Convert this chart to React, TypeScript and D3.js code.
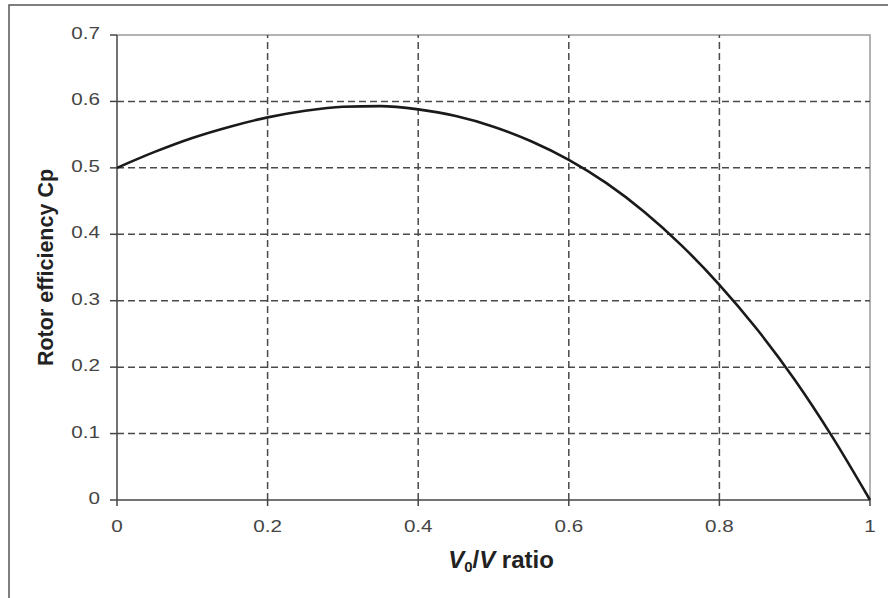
import React from 'react'
import * as d3 from 'd3'

// V0/V ratio samples and rotor efficiency
const ratios = [0, 0.05, 0.1, 0.15, 0.2, 0.25, 0.3, 0.35, 0.4, 0.45, 0.5, 0.55, 0.6, 0.65, 0.7, 0.75, 0.8, 0.85, 0.9, 0.95, 1]
const cpValues = [0.5, 0.524, 0.545, 0.562, 0.576, 0.586, 0.592, 0.593, 0.588, 0.578, 0.562, 0.54, 0.512, 0.477, 0.434, 0.383, 0.324, 0.257, 0.181, 0.095, 0]

const xTicks = [0, 0.2, 0.4, 0.6, 0.8, 1]
const yTicks = [0, 0.1, 0.2, 0.3, 0.4, 0.5, 0.6, 0.7]

const W = 888
const H = 598
const margin = { left: 117, top: 35, right: 18, bottom: 98 }

const FONT = '"Liberation Sans", Arial, sans-serif'

const App = () => {
  const x = d3
    .scaleLinear()
    .domain([0, 1])
    .range([margin.left, W - margin.right])
  const y = d3
    .scaleLinear()
    .domain([0, 0.7])
    .range([H - margin.bottom, margin.top])

  const points = ratios.map((r, i) => [r, cpValues[i]])
  const line = d3
    .line()
    .x(d => x(d[0]))
    .y(d => y(d[1]))
    .curve(d3.curveMonotoneX)

  const [x0, x1] = x.range()
  const [y0, y1] = y.range()

  return (
    <svg
      width={W}
      height={H}
      style={{ position: 'absolute', left: 0, top: 0, display: 'block', background: '#fff' }}
    >
      {/* outer frame, runs off the right and bottom edges */}
      <rect x={9} y={5} width={W + 20} height={H + 20} fill="none" stroke="#555" strokeWidth={1.5} />

      {/* plot border (top and right) */}
      <path d={`M${x0},${y1}H${x1}V${y0}`} fill="none" stroke="#999" strokeWidth={1.5} />

      {/* grid */}
      <g stroke="#4a4a4a" strokeWidth={1.5} strokeDasharray="7,4">
        {yTicks
          .filter(t => t > 0 && t < 0.7)
          .map(t => (
            <line key={'gy' + t} x1={x0} x2={x1} y1={y(t)} y2={y(t)} />
          ))}
        {xTicks
          .filter(t => t > 0 && t < 1)
          .map(t => (
            <line key={'gx' + t} x1={x(t)} x2={x(t)} y1={y0} y2={y1} />
          ))}
      </g>

      {/* axes */}
      <g stroke="#444" strokeWidth={1.5}>
        <line x1={x0} x2={x0} y1={y1} y2={y0} />
        <line x1={x0} x2={x1} y1={y0} y2={y0} />
        {yTicks.map(t => (
          <line key={'ty' + t} x1={x0 - 7} x2={x0} y1={y(t)} y2={y(t)} />
        ))}
        {xTicks.map(t => (
          <line key={'tx' + t} x1={x(t)} x2={x(t)} y1={y0} y2={y0 + 6} />
        ))}
      </g>

      {/* tick labels */}
      <g fill="#444" fontFamily={FONT} fontSize={16.5}>
        {yTicks.map(t => (
          <g key={'ly' + t} transform={`translate(${x0 - 17},${y(t) + 4}) scale(1.25,1)`}>
            <text textAnchor="end">{d3.format('')(t)}</text>
          </g>
        ))}
        {xTicks.map(t => (
          <g key={'lx' + t} transform={`translate(${x(t)},${y0 + 32}) scale(1.25,1)`}>
            <text textAnchor="middle">{d3.format('')(t)}</text>
          </g>
        ))}
      </g>

      {/* curve */}
      <path d={line(points)} fill="none" stroke="#1a1a1a" strokeWidth={2.6} strokeLinejoin="round" />

      {/* axis titles */}
      <text
        transform={`translate(53,${(y0 + y1) / 2}) rotate(-90)`}
        textAnchor="middle"
        fontFamily={FONT}
        fontWeight="bold"
        fontSize={21.5}
        fill="#222"
      >
        Rotor efficiency Cp
      </text>
      <text x={501} y={568} textAnchor="middle" fontFamily={FONT} fontWeight="bold" fontSize={24} fill="#222">
        <tspan fontStyle="italic">V</tspan>
        <tspan fontSize={15} dy={4}>0</tspan>
        <tspan dy={-4}>/</tspan>
        <tspan fontStyle="italic">V</tspan>
        <tspan> ratio</tspan>
      </text>
    </svg>
  )
}

export default App
